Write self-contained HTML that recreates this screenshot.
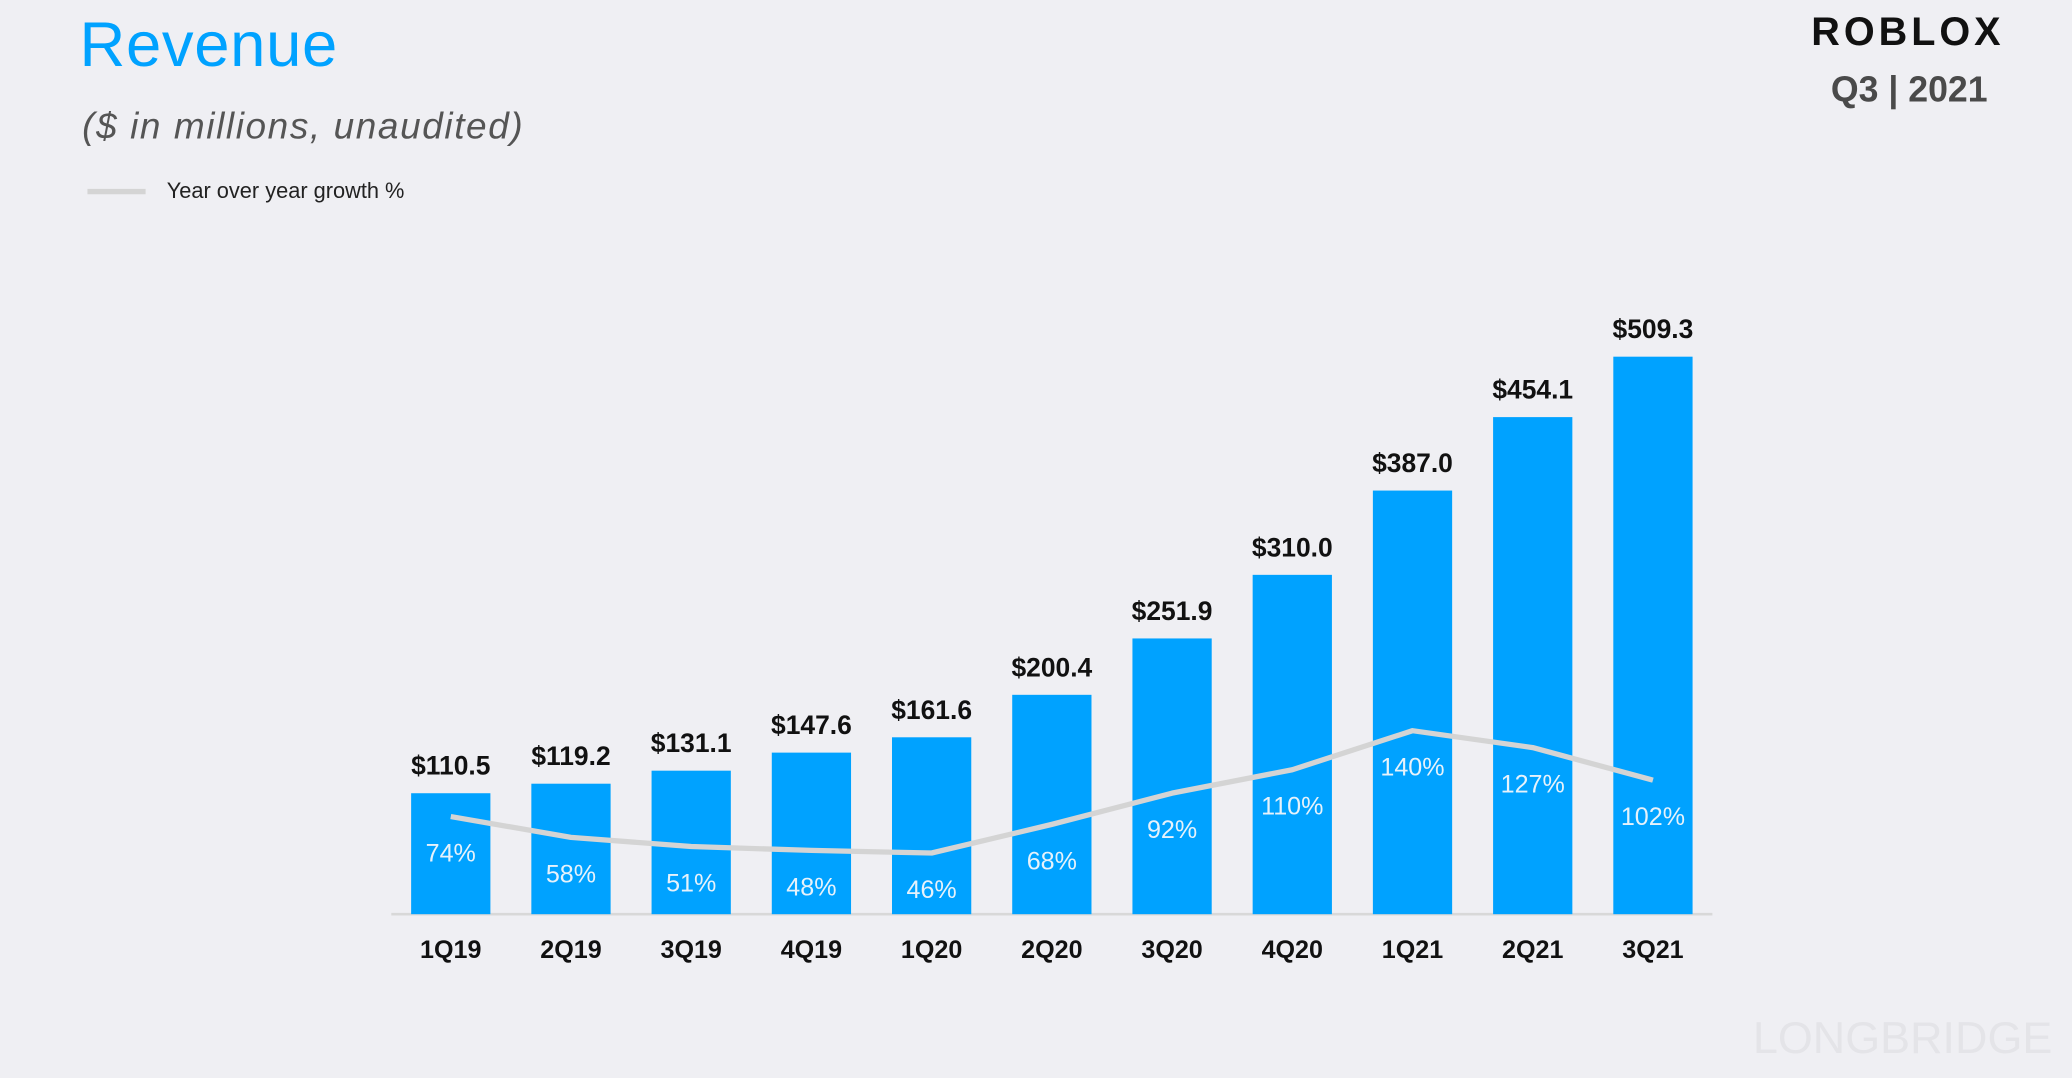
<!DOCTYPE html>
<html><head><meta charset="utf-8"><style>
html,body{margin:0;padding:0;background:#efeff3;}
svg{display:block;font-family:"Liberation Sans","DejaVu Sans",sans-serif;}
</style></head><body>
<svg id="chart" width="2072" height="1078" viewBox="0 0 1568 816" xmlns="http://www.w3.org/2000/svg">
<rect width="1568" height="816" fill="#efeff3"/>
<text x="60" y="50" font-size="48" fill="#00a2ff" letter-spacing="0.5">Revenue</text>
<text x="62" y="105" font-size="28" font-style="italic" fill="#555" letter-spacing="1.2">($ in millions,  unaudited)</text>
<line x1="66" y1="145" x2="110" y2="145" stroke="#d4d4d4" stroke-width="4"/>
<text x="126" y="150" font-size="16.5" fill="#222">Year over year growth %</text>
<text x="1444" y="34" font-size="30" font-weight="900" fill="#111" text-anchor="middle" letter-spacing="3">ROBLOX</text>
<text x="1445" y="77" font-size="27" font-weight="bold" fill="#4a4a4a" text-anchor="middle">Q3 | 2021</text>
<text x="1440" y="797" font-size="34" fill="#e4e4e8" text-anchor="middle">LONGBRIDGE</text>
<line x1="296" y1="692" x2="1296" y2="692" stroke="#d8d8d8" stroke-width="2"/>
<g id="bars"></g><g id="line"></g><g id="labels"></g>
</svg>
<script>
const categories=["1Q19","2Q19","3Q19","4Q19","1Q20","2Q20","3Q20","4Q20","1Q21","2Q21","3Q21"];
const revenue=[110.5,119.2,131.1,147.6,161.6,200.4,251.9,310.0,387.0,454.1,509.3];
const growth=[74,58,51,48,46,68,92,110,140,127,102];
const NS="http://www.w3.org/2000/svg";
const x=i=>341+i*91;
const yRev=v=>692-v*0.8286;
const yG=p=>691-p*0.985;
const bars=document.getElementById('bars'),lineG=document.getElementById('line'),lab=document.getElementById('labels');
function mk(tag,attrs,parent,txt){const e=document.createElementNS(NS,tag);for(const k in attrs)e.setAttribute(k,attrs[k]);if(txt!==undefined)e.textContent=txt;parent.appendChild(e);return e;}
let pts=[];
revenue.forEach((v,i)=>{
  const r=mk('rect',{x:x(i)-30,y:yRev(v),width:60,height:692-yRev(v),fill:'#00a2ff'},bars);
  
  
  const t=mk('text',{x:x(i),y:yRev(v)-14,'font-size':20,'font-weight':'bold',fill:'#111','text-anchor':'middle'},lab,'$'+v.toFixed(1));
  
  
  const c=mk('text',{x:x(i),y:725,'font-size':19,'font-weight':'bold',fill:'#111','text-anchor':'middle'},lab,categories[i]);
  
  
  pts.push(x(i)+','+yG(growth[i]));
  const g=mk('text',{x:x(i),y:yG(growth[i])+34,'font-size':19,fill:'#e6f2fb','text-anchor':'middle'},lab,growth[i]+'%');
  
  
});
const pl=mk('polyline',{points:pts.join(' '),fill:'none',stroke:'#d4d4d4','stroke-width':4,'stroke-linejoin':'round'},lineG);


</script>
</body></html>
